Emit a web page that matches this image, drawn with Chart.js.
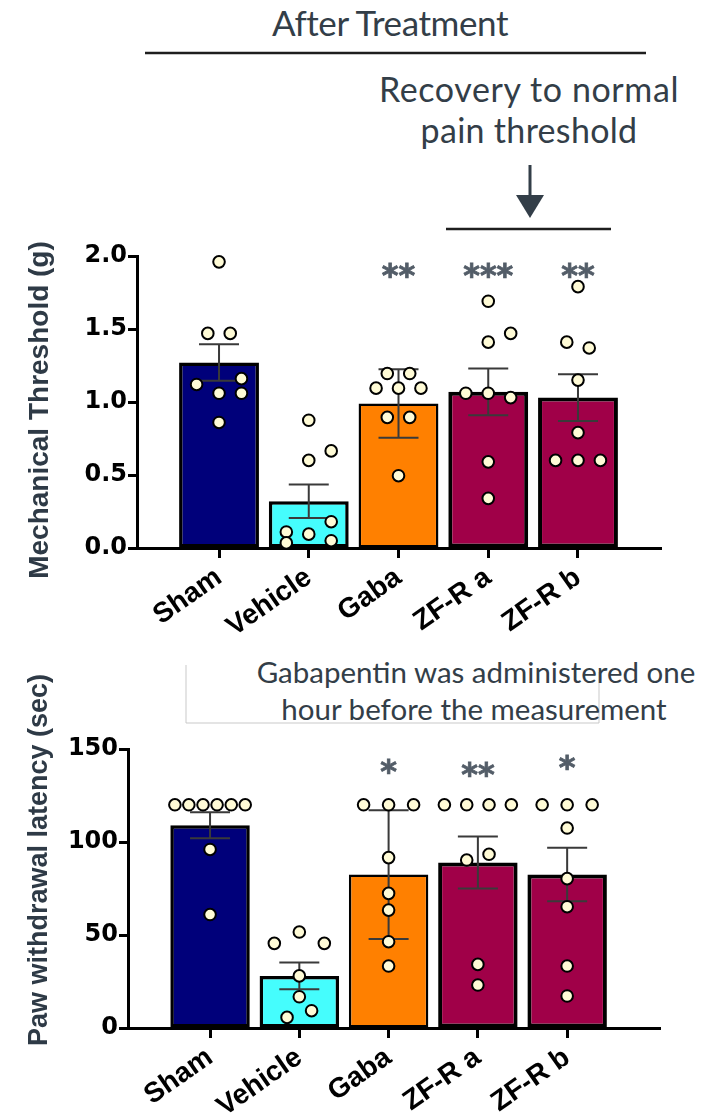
<!DOCTYPE html>
<html lang="en">
<head>
<meta charset="UTF-8" />
<title>Mechanical threshold and paw withdrawal latency</title>
<script src="https://cdn.jsdelivr.net/npm/chart.js"></script>
<style>
  body { margin: 0; background: #fff; }
  #page { position: relative; width: 718px; height: 1117px; overflow: hidden; font-family: Lato, "Open Sans", sans-serif; }
  .note { position: absolute; color: #333e48; text-align: center; white-space: nowrap; }
  canvas { position: absolute; left: 0; }
  svg { position: absolute; left: 0; top: 0; }
</style>
</head>
<body>
<div id="page">
  <svg width="718" height="1117">
    <line x1="145" y1="53" x2="646" y2="53" stroke="#1e1e1e" stroke-width="2.5"/>
    <line x1="530" y1="165" x2="530" y2="200" stroke="#333e48" stroke-width="3"/>
    <polygon points="516,195 544,195 530,218" fill="#333e48"/>
    <line x1="446" y1="229" x2="611" y2="229" stroke="#1e1e1e" stroke-width="2.5"/>
    <polyline points="186,665 186,723 599,723 599,672" fill="none" stroke="#c9c9c9" stroke-width="1"/>
  </svg>

  <div class="note" style="left:190px;width:400px;top:1px;font-size:35px;line-height:42px;letter-spacing:-0.4px">After Treatment</div>
  <div class="note" style="left:329px;width:400px;top:68px;font-size:34px;line-height:42px;letter-spacing:0.6px">Recovery to normal</div>
  <div class="note" style="left:329px;width:400px;top:109px;font-size:34px;line-height:42px;letter-spacing:0.3px">pain threshold</div>
  <div class="note" style="left:226px;width:500px;top:653px;font-size:29.5px;line-height:38px">Gabapentin was administered one</div>
  <div class="note" style="left:224px;width:500px;top:690px;font-size:29.5px;line-height:38px">hour before the measurement</div>

  <canvas id="mech" width="718" height="412" style="top:230px"></canvas>
  <canvas id="paw" width="718" height="457" style="top:660px"></canvas>
</div>

<script>
  const groups = ['Sham', 'Vehicle', 'Gaba', 'ZF-R a', 'ZF-R b'];

  // Mechanical threshold (g): bar = mean, whisker = error
  const mechMean  = [1.27, 0.32, 0.99, 1.07, 1.03];
  const mechErr   = [0.125, 0.115, 0.235, 0.16, 0.16];
  const mechStars = ['', '', '**', '***', '**'];
  const mechTicks = [0, 0.5, 1.0, 1.5, 2.0];

  // individual animals, per group
  const mechSham    = [1.96, 1.47, 1.47, 1.12, 1.16, 1.06, 1.06, 0.86];
  const mechVehicle = [0.875, 0.60, 0.665, 0.11, 0.095, 0.18, 0.035, 0.05];
  const mechGaba    = [1.195, 1.195, 1.095, 1.095, 1.095, 0.895, 0.895, 0.495];
  const mechZfa     = [1.69, 1.47, 1.41, 1.06, 1.06, 1.03, 0.59, 0.34];
  const mechZfb     = [1.79, 1.41, 1.37, 1.15, 0.79, 0.60, 0.60, 0.60];
  // swarm column of each animal (left / right of the bar centre)
  const mechCols = [
    [0, -1, 1, -2, 2, 0, 2, 0],
    [0, 0, 2, -2, 0, 2, -2, 2],
    [-1, 1, -2, 0, 2, -1, 1, 0],
    [0, 2, 0, -2, 0, 2, 0, 0],
    [0, -1, 1, 0, 0, -2, 0, 2]
  ];

  // Paw withdrawal latency (sec)
  const pawMean  = [109, 28, 82.5, 89, 82.5];
  const pawErr   = [7, 7.2, 34.6, 14, 14.4];
  const pawStars = ['', '', '*', '**', '*'];
  const pawTicks = [0, 50, 100, 150];

  const pawSham    = [120, 120, 120, 120, 120, 120, 96, 61];
  const pawVehicle = [45.5, 51.6, 45.5, 28, 16.8, 9.3, 5.7];
  const pawGaba    = [120, 120, 120, 91.6, 72.4, 63.4, 46.4, 33.3];
  const pawZfa     = [120, 120, 120, 120, 90.3, 93.4, 34.2, 23.1];
  const pawZfb     = [120, 120, 120, 107.5, 80.3, 65.2, 33.3, 17.2];
  const pawCols = [
    [-3.15, -1.9, -0.63, 0.63, 1.9, 3.15, 0, 0],
    [-2.24, 0, 2.24, 0, 0, 1.1, -1.1],
    [-2.24, 0, 2.24, 0, 0, 0, 0, 0],
    [-3, -1, 1, 3, -1, 1, 0, 0],
    [-2.24, 0, 2.24, 0, 0, 0, 0, 0]
  ];

  const COL = 0.125;  // one swarm column, in category units
  const barColors = ['#00007a', '#45fdfd', '#ff8000', '#a00048', '#a00048'];
  const barBorders = [3.5, 3.5, 2.5, 4, 4];

  const extras = {
    id: 'extras',
    afterDatasetDraw(chart, args, o) {
      if (args.index !== 0) return;
      const { ctx, scales: { x, y } } = chart;
      ctx.save();
      ctx.strokeStyle = '#3a3a3a';
      ctx.lineWidth = 2;
      o.mean.forEach((m, i) => {
        const cx = x.getPixelForValue(i);
        const top = y.getPixelForValue(m + o.err[i]);
        const bot = y.getPixelForValue(m - o.err[i]);
        ctx.beginPath();
        ctx.moveTo(cx, top); ctx.lineTo(cx, bot);
        ctx.moveTo(cx - 20, top); ctx.lineTo(cx + 20, top);
        ctx.moveTo(cx - 20, bot); ctx.lineTo(cx + 20, bot);
        ctx.stroke();
      });
      ctx.restore();
    },
    afterDraw(chart, args, o) {
      const { ctx, scales: { x, y } } = chart;
      ctx.save();
      // significance stars
      ctx.font = 'bold 32px "DejaVu Sans"';
      ctx.fillStyle = '#535d68';
      ctx.strokeStyle = '#535d68';
      ctx.lineWidth = 0.8;
      ctx.textAlign = 'center';
      ctx.textBaseline = 'alphabetic';
      o.stars.forEach((s, i) => {
        if (!s) return;
        const m = ctx.measureText(s);
        const mid = (m.actualBoundingBoxAscent - m.actualBoundingBoxDescent) / 2;
        const sx = x.getPixelForValue(i), sy = y.getPixelForValue(o.starY[i]) + mid;
        ctx.fillText(s, sx, sy);
        ctx.strokeText(s, sx, sy);
      });
      // y axis title
      ctx.translate(o.titleX, o.titleY);
      ctx.rotate(-Math.PI / 2);
      ctx.font = 'bold ' + o.titleSize + 'px "Liberation Sans", Arial';
      ctx.fillStyle = '#2e3a46';
      ctx.textBaseline = 'middle';
      ctx.fillText(o.title, 0, 0);
      ctx.restore();
    }
  };

  function makeChart(id, c) {
    const swarm = [];
    c.points.forEach((vals, g) => vals.forEach((v, k) => swarm.push({ x: g + c.cols[g][k] * COL, y: v })));
    return new Chart(document.getElementById(id), {
      type: 'bar',
      data: {
        datasets: [{
          type: 'bar',
          data: c.mean.map((m, i) => ({ x: i, y: m })),
          backgroundColor: barColors,
          borderColor: '#000',
          borderWidth: barBorders,
          borderSkipped: false,
          barPercentage: 0.89,
          categoryPercentage: 1,
          order: 2
        }, {
          type: 'scatter',
          data: swarm,
          pointRadius: 5.8,
          pointBorderWidth: 2,
          backgroundColor: '#fffbd6',
          borderColor: '#000',
          clip: false,
          order: 1
        }]
      },
      options: {
        responsive: false,
        animation: false,
        layout: { padding: { top: c.padTop, right: c.padRight, left: 0, bottom: 0 } },
        plugins: {
          legend: { display: false },
          tooltip: { enabled: false },
          extras: { mean: c.mean, err: c.err, stars: c.stars, starY: c.starY,
                    title: c.title, titleX: 40, titleY: c.titleY, titleSize: c.titleSize }
        },
        scales: {
          x: {
            type: 'linear',
            min: c.xMin, max: c.xMax,
            offset: false,
            afterBuildTicks: s => { s.ticks = groups.map((g, i) => ({ value: i })); },
            afterFit: s => { s.height = c.xHeight; },
            ticks: {
              callback: v => groups[v],
              minRotation: 35, maxRotation: 35,
              padding: 3,
              color: '#000',
              font: { family: '"Liberation Sans", Arial', weight: 'bold', size: 28 }
            },
            grid: { display: true, offset: false, drawOnChartArea: false, tickLength: 10, tickWidth: 3, tickColor: '#000' },
            border: { display: true, width: 3, color: '#000' }
          },
          y: {
            min: c.ticks[0], max: c.ticks[c.ticks.length - 1],
            afterBuildTicks: s => { s.ticks = c.ticks.map(v => ({ value: v })); },
            afterFit: s => { s.width = c.yWidth; },
            ticks: {
              callback: c.fmt,
              padding: 1,
              color: '#000',
              font: { family: '"DejaVu Sans"', weight: 'bold', size: 24 }
            },
            grid: { display: true, drawOnChartArea: false, tickLength: 9, tickWidth: 3, tickColor: '#000' },
            border: { display: true, width: 3, color: '#000' }
          }
        }
      },
      plugins: [extras]
    });
  }

  makeChart('mech', {
    mean: mechMean, err: mechErr, stars: mechStars, starY: [1.9, 1.9, 1.9, 1.9, 1.9],
    points: [mechSham, mechVehicle, mechGaba, mechZfa, mechZfb], cols: mechCols,
    ticks: mechTicks, fmt: v => v.toFixed(1),
    title: 'Mechanical Threshold (g)', titleY: 180, titleSize: 28,
    xMin: -0.914, xMax: 4.925, padTop: 26, padRight: 57, xHeight: 94, yWidth: 137
  });

  makeChart('paw', {
    mean: pawMean, err: pawErr, stars: pawStars, starY: [140, 140, 140.5, 139, 142.5],
    points: [pawSham, pawVehicle, pawGaba, pawZfa, pawZfb], cols: pawCols,
    ticks: pawTicks, fmt: v => String(v),
    title: 'Paw withdrawal latency (sec)', titleY: 200, titleSize: 27,
    xMin: -0.919, xMax: 5.04, padTop: 89, padRight: 58, xHeight: 89, yWidth: 128
  });
</script>
</body>
</html>
